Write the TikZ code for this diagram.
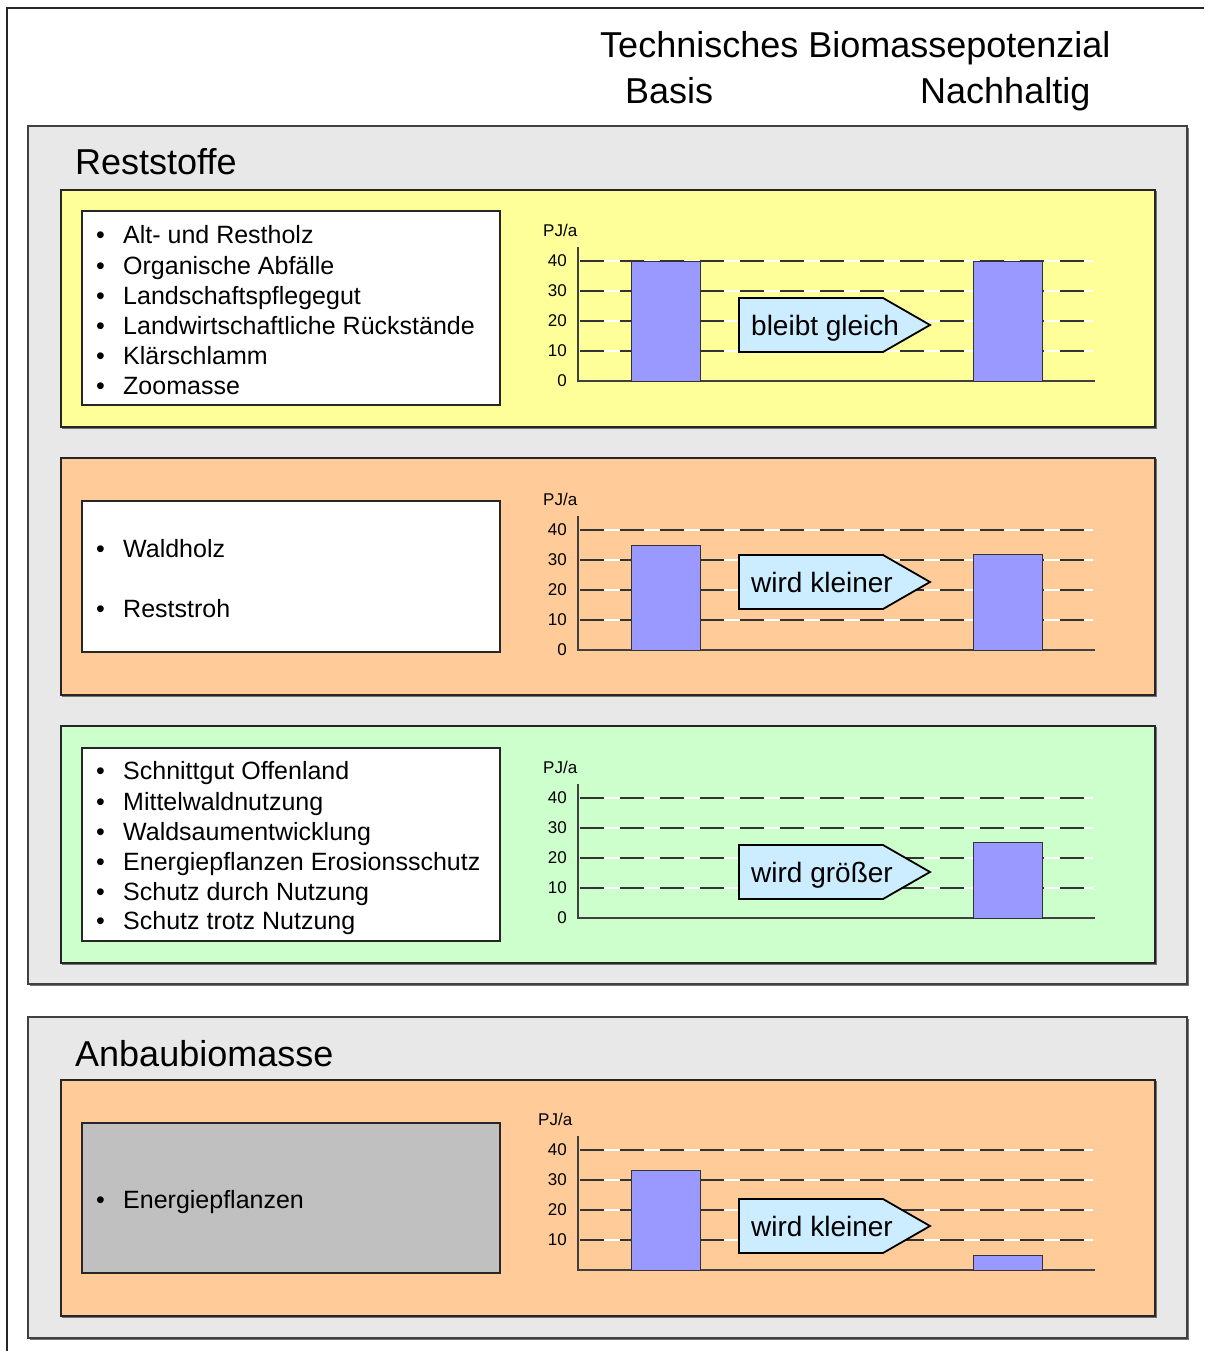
\documentclass[tikz,border=0pt]{standalone}
\usepackage{fontspec}
\setmainfont{Liberation Sans}
\definecolor{boxgray}{HTML}{E8E8E8}
\definecolor{panelyellow}{HTML}{FFFF99}
\definecolor{panelorange}{HTML}{FFCC99}
\definecolor{panelgreen}{HTML}{CCFFCC}
\definecolor{listgray}{HTML}{C0C0C0}
\definecolor{barblue}{HTML}{9999FF}
\definecolor{arrowblue}{HTML}{CCECFF}
\tikzset{
  frameline/.style={draw=black!85, line width=1.2pt},
  groupbox/.style={draw=black!75, line width=1.3pt, fill=boxgray},
  panelbox/.style={draw=black!85, line width=1.3pt},
  listbox/.style={draw=black!85, line width=1.2pt},
  dropshadow/.style={fill=black!55},
  listtxt/.style={anchor=base west, inner sep=0pt, font=\fontsize{25}{30}\selectfont},
  headtxt/.style={anchor=base west, inner sep=0pt, font=\fontsize{36}{43}\selectfont},
  ticktxt/.style={anchor=east, inner sep=0pt, font=\fontsize{17}{20}\selectfont},
  unittxt/.style={anchor=west, inner sep=0pt, font=\fontsize{17}{20}\selectfont},
  arrowtxt/.style={anchor=base west, inner sep=0pt, font=\fontsize{28}{34}\selectfont},
  gridbg/.style={draw=white, line width=1.3pt},
  gridfg/.style={draw=black!80, line width=1.3pt, dash pattern=on 24pt off 16pt},
  axisline/.style={draw=black!75, line width=1.2pt},
  barbox/.style={draw=black!80, line width=1pt, fill=barblue},
  arrowbox/.style={draw=black, line width=1.8pt, fill=arrowblue, line join=miter},
}
% bullet item: name, baseline, text
\newcommand\listitem[3]{%
  \node[listtxt] (#1b) at (96,#2) {•};
  \node[listtxt] (#1) at (123,#2) {#3};}
% small bar chart: prefix, baseline y, x of unit label, zero label,
% first bar value, second bar value, arrow centre (relative), arrow text
\newcommand\pjchart[8]{%
  \begin{scope}[shift={(0,#2)}]
    \foreach \v in {10,20,30,40}{
      \draw[gridbg] (580,-3*\v) -- (1093,-3*\v);
      \draw[gridfg] (580,-3*\v) -- (1093,-3*\v);
      \node[ticktxt] (#1t\v) at (567,-3*\v) {\v};
    }
    \node[ticktxt] (#1t0) at (567,0) {#4};
    \node[unittxt] (#1u) at (#3,-151) {PJ/a};
    \draw[axisline] (578,-134) -- (578,0) -- (1095,0);
    \ifdim #5pt>0pt \draw[barbox] (631,0) rectangle (700,-3*#5); \fi
    \ifdim #6pt>0pt \draw[barbox] (973,0) rectangle (1042,-3*#6); \fi
    \draw[arrowbox] (739,#7-27) -- (883,#7-27) -- (930,#7) -- (883,#7+27)
      -- (739,#7+27) -- cycle;
    \node[arrowtxt] (#1a) at (751,#7+10) {#8};
  \end{scope}}
\begin{document}
\begin{tikzpicture}[x=1pt, y=-1pt]
  \useasboundingbox (0,0) rectangle (1204,1351);
  \fill[white] (0,0) rectangle (1204,1351);
  % outer frame, open to the right and bottom
  \draw[frameline] (7,1351) -- (7,8) -- (1204,8);

  % heading
  \node[headtxt] (title) at (600,58) {Technisches Biomassepotenzial};
  \node[headtxt] (basis) at (625,104) {Basis};
  \node[headtxt] (nach) at (920,104) {Nachhaltig};

  % group: Reststoffe
  \fill[dropshadow] (30,128) rectangle (1189,986);
  \draw[groupbox] (28,126) rectangle (1187,984);
  \node[headtxt] (rest) at (75,175) {Reststoffe};

  % panel 1
  \fill[dropshadow] (62,191) rectangle (1157,429);
  \draw[panelbox, fill=panelyellow] (61,190) rectangle (1155,427);
  \draw[listbox, fill=white] (82,211) rectangle (500,405);
  \listitem{a1}{243}{Alt- und Restholz}
  \listitem{a2}{274}{Organische Abfälle}
  \listitem{a3}{304}{Landschaftspflegegut}
  \listitem{a4}{334}{Landwirtschaftliche Rückstände}
  \listitem{a5}{364}{Klärschlamm}
  \listitem{a6}{394}{Zoomasse}
  \pjchart{c1}{381}{543}{0}{40}{40}{-56}{bleibt gleich}

  % panel 2
  \fill[dropshadow] (62,459) rectangle (1157,697);
  \draw[panelbox, fill=panelorange] (61,458) rectangle (1155,695);
  \draw[listbox, fill=white] (82,501) rectangle (500,652);
  \listitem{b1}{557}{Waldholz}
  \listitem{b2}{617}{Reststroh}
  \pjchart{c2}{650}{543}{0}{34.7}{31.7}{-68}{wird kleiner}

  % panel 3
  \fill[dropshadow] (62,727) rectangle (1157,965);
  \draw[panelbox, fill=panelgreen] (61,726) rectangle (1155,963);
  \draw[listbox, fill=white] (82,748) rectangle (500,941);
  \listitem{g1}{779}{Schnittgut Offenland}
  \listitem{g2}{810}{Mittelwaldnutzung}
  \listitem{g3}{840}{Waldsaumentwicklung}
  \listitem{g4}{870}{Energiepflanzen Erosionsschutz}
  \listitem{g5}{900}{Schutz durch Nutzung}
  \listitem{g6}{929}{Schutz trotz Nutzung}
  \pjchart{c3}{918}{543}{0}{0}{25.3}{-46}{wird größer}

  % group: Anbaubiomasse
  \fill[dropshadow] (30,1019) rectangle (1189,1340);
  \draw[groupbox] (28,1017) rectangle (1187,1338);
  \node[headtxt] (anbau) at (75,1066) {Anbaubiomasse};

  % panel 4
  \fill[dropshadow] (62,1081) rectangle (1157,1318);
  \draw[panelbox, fill=panelorange] (61,1080) rectangle (1155,1316);
  \draw[listbox, fill=listgray] (82,1123) rectangle (500,1273);
  \listitem{e1}{1208}{Energiepflanzen}
  \pjchart{c4}{1270}{538}{}{33.3}{4.7}{-44}{wird kleiner}
\end{tikzpicture}
\end{document}
